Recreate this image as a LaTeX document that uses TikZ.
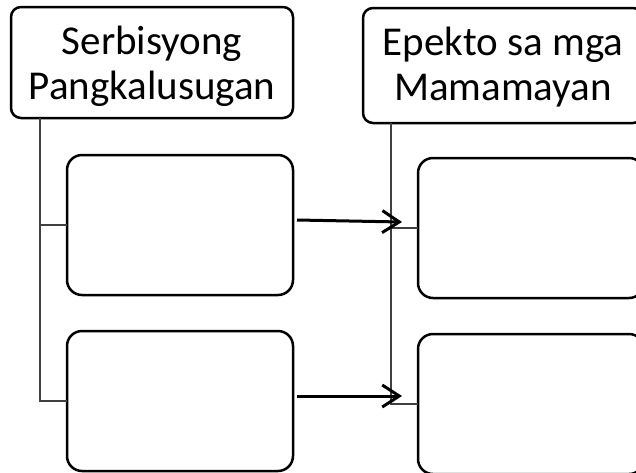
\documentclass[tikz,border=0pt]{standalone}
\usepackage{fontspec}
\setmainfont{Carlito}
\usepackage{tikz}
\usetikzlibrary{positioning, arrows.meta}

\begin{document}
\begin{tikzpicture}[x=1pt,y=-1pt,>={Straight Barb[length=17pt,width=22pt]},
      head node/.style={draw,rounded corners=10pt,line width=2.5pt,outer sep=0pt},
      head text/.style={inner sep=0pt,align=center,font=\fontsize{41}{45}\selectfont},
      box node/.style={draw,rounded corners=15pt,line width=2.5pt,outer sep=0pt,
        minimum width=226pt,minimum height=140pt},
      link/.style={line width=1.3pt,black!75},
      arrow/.style={->,line width=3pt}]
    \useasboundingbox (0,0) rectangle (636,472);

    \node[head node,minimum width=282pt,minimum height=111pt] (serb) at (152,62.5) {};
    \node[head node,minimum width=280pt,minimum height=115pt] (epek) at (503,65.5) {};
    \node[head text] (serbtxt) at ([yshift=-4pt]serb.center) {Serbisyong\\Pangkalusugan};
    \node[head text] (epektxt) at ([yshift=-2pt]epek.center) {Epekto sa mga\\Mamamayan};
    \node[box node] (s1) at (180,225) {};
    \node[box node] (s2) [below=36pt of s1] {};
    \node[box node] (e1) [right=125pt of s1,yshift=-3pt] {};
    \node[box node] (e2) [right=125pt of s2,yshift=-3pt] {};

    % brackets under the headers
    \coordinate (sl) at ([xshift=29pt]serb.south west);
    \coordinate (el) at ([xshift=28pt]epek.south west);
    \draw[link] (sl) |- (s1.west);
    \draw[link] (sl) |- (s2.west);
    \draw[link] (el) |- (e1.west);
    \draw[link] (el) |- (e2.west);

    \coordinate (a1) at ([xshift=4pt,yshift=5pt]s1.east);
    \coordinate (b1) at ([xshift=-16pt,yshift=6pt]e1.west);
    \coordinate (a2) at ([xshift=4pt,yshift=5pt]s2.east);
    \coordinate (b2) at ([xshift=-16pt,yshift=8pt]e2.west);
    \draw[arrow] (a1) -- (b1);
    \draw[arrow] (a2) -- (b2);
\end{tikzpicture}
\end{document}
